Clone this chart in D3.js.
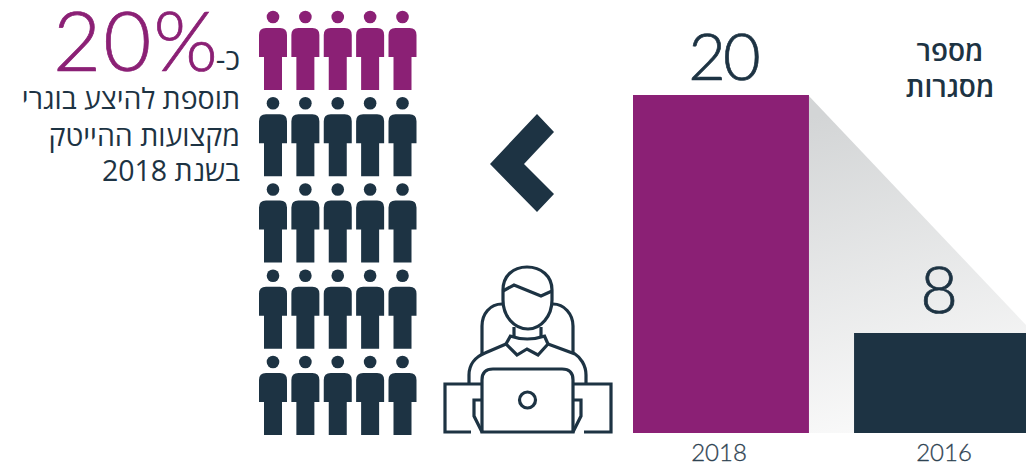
<!DOCTYPE html>
<html>
<head>
<meta charset="utf-8">
<style>
    html, body { margin: 0; padding: 0; background: #fff; overflow: hidden; }
    svg { display: block; }
    .heb { font-family: "Open Sans", sans-serif; fill: #1d3343; direction: rtl; }
    .num { font-family: "Lato", sans-serif; font-weight: 300; fill: #1d3343; stroke-width: 0.7; }
    .x .domain, .x .tick line { display: none; }
    .x .tick text { font-family: "Lato", sans-serif; font-size: 24px; font-weight: 300; fill: #2f4352; stroke: #2f4352; stroke-width: 0.3; }
</style>
</head>
<body>
<svg width="1026" height="468"></svg>
<script src="https://d3js.org/d3.v7.min.js"></script>
<script>
    // data
    let years = ["2018", "2016"]
    let frameworks = [20, 8]
    let barColors = ["#8b2075", "#1d3343"]
    let titleLines = ["מספר", "מסגרות"]
    let calloutLines = ["תוספת להיצע בוגרי", "מקצועות ההייטק", "בשנת 2018"]
    let peopleRows = [0, 1, 2, 3, 4]
    let peopleCols = [0, 1, 2, 3, 4]
    let highlightedRows = [0] // one row of five = 20%

    let purple = "#8b2075"
    let navy = "#1d3343"

    let svg = d3.select("svg")

    // the original bars are not drawn to one ratio, so the y scale has a knot at 8
    let baseY = 433
    let x = d3.scaleBand().domain(years).range([633, 1030]).paddingInner(0.204)
    let y = d3.scaleLinear().domain([0, 8, 20]).range([baseY, 333, 95])

    // gradient wedge between the two bars
    let defs = svg.append("defs")
    let grad = defs.append("linearGradient")
        .attr("id", "wedge")
        .attr("x1", "0.42").attr("y1", "0")
        .attr("x2", "0.58").attr("y2", "1")
    grad.append("stop").attr("offset", "0").attr("stop-color", "#d3d5d6")
    grad.append("stop").attr("offset", "1").attr("stop-color", "#fbfbfb")

    svg.append("path")
        .attr("d", "M808,95 L1026,325 L1026,433 L808,433 Z")
        .attr("fill", "url(#wedge)")

    svg.append("g").selectAll("rect")
        .data(years)
        .join("rect")
        .attr("x", d => x(d))
        .attr("y", (d, i) => y(frameworks[i]))
        .attr("width", x.bandwidth())
        .attr("height", (d, i) => y(0) - y(frameworks[i]))
        .attr("fill", (d, i) => barColors[i])

    // value labels
    svg.append("g").selectAll("text")
        .data(years)
        .join("text")
        .attr("class", "num")
        .attr("x", (d, i) => x(d) + x.bandwidth() / 2 + (i == 0 ? 2 : -3))
        .attr("y", (d, i) => y(frameworks[i]) - 15 - (i == 0 ? 0 : 5))
        .attr("text-anchor", "middle")
        .attr("font-size", 65)
        .attr("letter-spacing", (d, i) => i == 0 ? -3 : 0)
        .style("stroke", navy)
        .text((d, i) => frameworks[i])

    let xAxis = svg.append("g")
        .attr("class", "x")
        .attr("transform", `translate(0, ${baseY})`)
        .call(d3.axisBottom(x).tickSize(0).tickPadding(11))
    xAxis.selectAll(".tick text").attr("dx", (d, i) => i == 0 ? -2 : 2)

    // title
    svg.append("g").selectAll("text")
        .data(titleLines)
        .join("text")
        .attr("class", "heb")
        .attr("x", 950)
        .attr("y", (d, i) => 61 + i * 36)
        .attr("text-anchor", "middle")
        .attr("font-size", 28)
        .attr("font-weight", 600)
        .text(d => d)

    // callout
    svg.append("text")
        .attr("class", "num")
        .attr("x", 220).attr("y", 71)
        .attr("text-anchor", "end")
        .attr("font-size", 83)
        .attr("letter-spacing", 2)
        .style("fill", purple)
        .style("stroke", purple)
        .text("20%")

    svg.append("text")
        .attr("class", "heb")
        .attr("x", 240).attr("y", 70)
        .attr("text-anchor", "start")
        .attr("font-size", 30)
        .attr("font-weight", 500)
        .text("כ-")

    svg.append("g").selectAll("text")
        .data(calloutLines)
        .join("text")
        .attr("class", "heb")
        .attr("x", 240)
        .attr("y", (d, i) => [109, 146, 181][i])
        .attr("text-anchor", "start")
        .attr("font-size", 28.5)
        .attr("font-weight", 500)
        .text(d => d)

    // pictogram
    let px = d3.scaleLinear().domain([0, 4]).range([402.5, 273])
    let py = d3.scaleLinear().domain([0, 4]).range([17, 362])

    let personBody = "M-14,18 Q-14,11 -7,11 L7,11 Q14,11 14,18 L14,40 L9,40 L9,73 L-9,73 L-9,40 L-14,40 Z"

    let person = svg.append("g").selectAll("g")
        .data(d3.cross(peopleRows, peopleCols))
        .join("g")
        .attr("transform", d => `translate(${px(d[1])}, ${py(d[0])})`)
        .attr("fill", d => highlightedRows.includes(d[0]) ? purple : navy)

    person.append("circle").attr("r", 6.3)
    person.append("path").attr("d", personBody)

    // chevron
    svg.append("path")
        .attr("d", "M537,114 L554,132 L524,164 L554,194 L537,212 L490,164 Z")
        .attr("fill", navy)

    // worker icon, paths in the icon's own pixels
    let icon = svg.append("g")
        .attr("transform", "translate(430, 250)")
        .attr("fill", "none")
        .attr("stroke", navy)
        .attr("stroke-width", 3.2)

    let iconPaths = [
        // head
        "M73,40 L73,50 C73,66 84,79 98,79 C111,79 122,66 122,50 L122,40 C122,26 111,17 97,17 C83,17 73,26 73,40 Z",
        // hair
        "M73,41 L84,35 L111,46 L122,41",
        // neck
        "M84,77 L84,87 M111,77 L111,87",
        "M80,86 Q97,92 115,86",
        // chair
        "M72,54 C60,54 52,64 52,76 L52,104",
        "M123,54 C134,54 143,64 143,76 L143,104",
        // collar
        "M81,85 L76,94 L87,105 L97,99 L108,105 L118,94 L114,85",
        // shoulders
        "M76,94 L55,103 C45,107 39,115 39,125 L39,134",
        "M118,94 L145,104 C150,107 156,115 156,125 L156,134",
        // laptop
        "M52,182 L52,130 Q52,119 63,119 L132,119 Q143,119 143,130 L143,182 Z",
        // desk
        "M52,134 L15,134 L15,182 L41,182",
        "M143,134 L181,134 L181,182 L154,182",
        // arms behind the laptop
        "M52,150 L44,150 L44,166 L52,182",
        "M143,150 L151,150 L151,166 L143,182"
    ]
    icon.selectAll("path").data(iconPaths).join("path").attr("d", d => d)
    icon.append("circle").attr("cx", 97.5).attr("cy", 150).attr("r", 8)
</script>
</body>
</html>
